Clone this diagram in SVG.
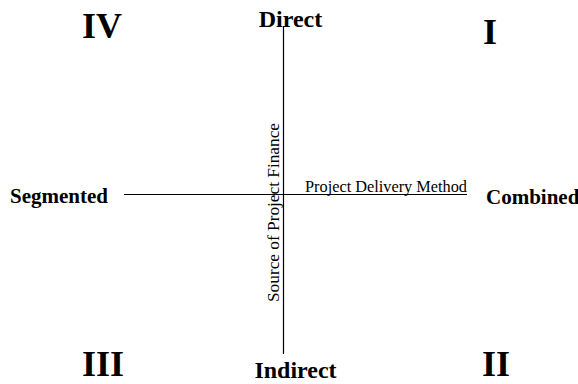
<svg xmlns="http://www.w3.org/2000/svg" width="578" height="384" viewBox="0 0 578 384">
<style>
.q{font-family:"Liberation Serif",serif;font-weight:bold;font-size:36px;fill:#000}
.b{font-family:"Liberation Serif",serif;font-weight:bold;font-size:21px;fill:#000}
.c{font-family:"Liberation Serif",serif;font-weight:bold;font-size:24px;fill:#000}
.n{font-family:"Liberation Serif",serif;font-size:16px;fill:#000}
.ax{stroke:#000;stroke-width:1.2;fill:none}
</style>
<rect width="578" height="384" fill="#fff"/>
<g id="connectors">
<line class="ax" x1="283.5" y1="26" x2="283.5" y2="354"/>
<line class="ax" x1="124" y1="194.5" x2="467" y2="194.5"/>
</g>
<g id="quad-IV"><text class="q" x="82" y="38">IV</text></g>
<g id="quad-I"><text class="q" x="483" y="44">I</text></g>
<g id="quad-III"><text class="q" x="82" y="376">III</text></g>
<g id="quad-II"><text class="q" x="482" y="376">II</text></g>
<g id="direct"><text class="c" x="290.5" y="27" text-anchor="middle">Direct</text></g>
<g id="indirect"><text class="c" x="295.5" y="378" text-anchor="middle">Indirect</text></g>
<g id="segmented"><text class="b" x="10" y="203">Segmented</text></g>
<g id="combined"><text class="b" x="486" y="204">Combined</text></g>
<g id="pdm"><text class="n" x="305" y="192" textLength="162" lengthAdjust="spacingAndGlyphs">Project Delivery Method</text></g>
<g id="spf"><text class="n" transform="translate(279,212.5) rotate(-90)" text-anchor="middle" textLength="179" lengthAdjust="spacingAndGlyphs">Source of Project Finance</text></g>
</svg>
